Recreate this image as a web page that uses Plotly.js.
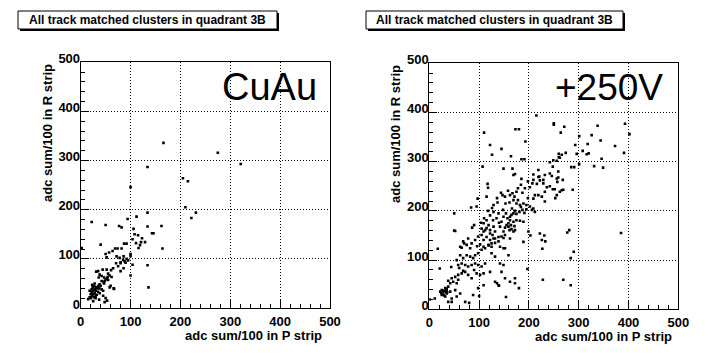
<!DOCTYPE html>
<html>
<head>
<meta charset="utf-8">
<script src="https://cdn.plot.ly/plotly-3.0.1.min.js"></script>
<style>html,body{margin:0;padding:0;background:#fff;}#chart{width:724px;height:361px;}</style>
</head>
<body>
<div id="chart"></div>
<script>
// ---- data (adc sum/100 in P strip, adc sum/100 in R strip) ----
const panelTitle = "All track matched clusters in quadrant 3B";
const xAxisTitle = "adc sum/100 in P strip";
const yAxisTitle = "adc sum/100 in R strip";
const leftLabel = "CuAu";
const rightLabel = "+250V";
const tickVals = [0, 100, 200, 300, 400, 500];

const cuauPoints = [
[166,336],[275,316],[321,293],[134,287],[100,246],[205,264],[215,258],[210,205],[231,194],[222,183],
[134,194],[22,175],[50,169],[77,167],[82,164],[94,181],[112,186],[134,166],[162,167],[106,161],
[108,150],[115,148],[123,142],[129,134],[121,134],[111,132],[104,140],[143,152],[146,152],[164,121],
[116,122],[119,128],[134,87],[136,42],[100,110],[100,106],[100,66],[104,88],[87,131],[92,131],
[82,121],[74,121],[69,121],[64,116],[57,113],[50,110],[52,103],[40,129],[2,122],[72,105],
[78,102],[85,98],[88,95],[92,100],[95,97],[86,105],[80,93],[90,92],[71,91],[75,85],
[80,91],[86,81],[80,75],[65,81],[61,77],[52,78],[44,78],[54,63],[58,66],[67,39],
[47,62],[50,58],[53,60],[48,55],[46,52],[55,57],[42,55],[38,48],[35,45],[40,45],
[30,42],[33,40],[28,38],[25,35],[22,32],[20,28],[23,25],[26,22],[20,20],[18,22],
[15,18],[24,42],[27,45],[30,35],[35,33],[37,40],[42,38],[38,30],[32,27],[28,30],
[25,28],[30,25],[22,38],[18,35],[35,75],[31,74],[38,68],[42,65],[36,62],[47,50],
[50,20],[45,25],[53,15],[48,12],[60,45],[58,42],[37,17],[30,20],[25,14],[55,70],
[45,35],[66,40],[62,63],[23,47],[28,50]
];

const hvPoints = [
[215,394],[250,378],[250,375],[271,371],[264,359],[338,373],[393,377],[402,356],[301,352],[326,354],
[344,343],[373,332],[391,318],[349,288],[346,306],[331,291],[318,336],[316,315],[320,317],[308,322],
[301,295],[291,289],[285,289],[293,334],[274,318],[266,314],[262,308],[256,302],[248,290],[259,280],
[268,263],[256,266],[288,243],[269,243],[256,232],[253,226],[232,219],[296,316],
[110,359],[122,334],[173,366],[180,366],[193,341],[145,326],[126,314],[164,311],[185,305],[191,305],
[260,316],[260,309],[249,303],[107,290],[149,286],[167,286],[172,275],[185,265],[209,274],[219,283],
[221,270],[232,273],[242,276],[117,255],[118,247],[242,299],
[219,269],[209,263],[229,263],[246,271],[259,268],[257,259],[169,273],[202,248],[216,255],[229,256],
[242,250],[248,244],[252,244],[262,239],[266,242],[184,253],[192,246],[175,239],[167,236],[171,229],
[187,237],[209,225],[219,232],[226,229],[232,239],[144,237],[152,229],[162,232],[169,222],[161,217],
[153,215],[137,217],[129,212],[175,215],[182,212],[189,215],[195,212],[202,209],[206,202],[209,205],
[212,198],[184,208],[187,202],[195,203],[181,198],[191,196],[172,200],[169,195],[175,194],[162,188],
[165,192],[154,195],[149,188],[157,185],[162,181],[169,178],[175,181],[182,180],[189,178],[171,169],
[164,171],[159,175],[155,171],[152,166],[165,163],[161,161],[172,161],[142,168],[145,178],[135,185],
[139,195],[129,198],[122,191],[115,181],[109,175],[119,171],[129,168],[122,161],[132,158],[112,161],
[105,164],[127,151],[115,147],[122,141],[109,141],[132,144],[139,147],[119,130],[109,127],[125,127],
[132,135],[149,145],[152,151],[199,158],[222,154],[226,141],[281,161],[277,156],[189,137],[149,124],
[17,123],[52,159],[78,144],[68,138],[62,127],[75,131],[82,124],[85,134],[92,141],[98,148],
[105,151],[109,158],[115,165],[122,154],[129,144],[125,134],[119,131],[112,124],[105,121],[98,114],
[92,110],[88,104],[82,107],[75,110],[68,104],[62,110],[55,100],[58,90],[65,93],[72,90],
[78,87],[85,90],[92,93],[98,90],[105,87],[112,93],[90,80],[95,73],[102,70],[109,73],
[122,76],[85,63],[78,70],[72,76],[65,73],[58,70],[52,66],[45,63],[48,56],[55,53],
[42,53],[38,46],[32,43],[25,39],[28,32],[35,32],[32,26],[25,29],[22,36],[35,39],
[42,36],[52,39],[45,22],[55,26],[62,32],[38,15],[72,15],[88,29],[98,43],[109,49],
[154,25],[132,56],[139,49],[145,76],[152,63],[162,56],[172,53],[142,93],[149,90],[159,110],
[152,124],[142,127],[139,138],[145,148],[149,158],[162,144],[169,158],[159,168],[125,114],[132,107],
[1,20],[11,22],[21,83],[50,195],[50,160],[95,209],[84,207],[97,225],[115,229],
[26,30],[30,28],[27,38],[34,36],[31,37],[36,34],[24,33],[35,42],
[180,43],[172,63],[197,82],[228,60],[269,60],[284,49],[136,53],[140,48],[100,27],[80,13],
[45,15],[227,123],[231,150],[233,138],[203,150],[290,117],[284,104],[385,155],
[65,125],[70,134],[86,166],[90,171],[104,176],[110,185],[118,200],[126,206],[136,226],[147,232],
[158,241],[178,246],[198,260],[207,256],[222,262],[236,248],[212,232],[198,226],[178,222],[166,205],
[148,202],[140,176],[128,181],[96,128],[102,132],[60,84],[68,78],[44,86],[38,58],[58,60]
];

// ---- layout helpers (pixel -> paper) ----
const W = 724, H = 361;
const px = v => v / W;
const py = v => 1 - v / H;

function axisCommon(extra) {
  return Object.assign({
    range: [0, 500], tickvals: tickVals, ticktext: tickVals.map(String),
    ticks: 'inside', ticklen: 8, tickwidth: 1, tickcolor: '#000',
    showline: true, linecolor: '#000', linewidth: 1, mirror: true,
    showgrid: true, gridcolor: '#000', gridwidth: 1, griddash: '1px,2px',
    zeroline: false,
    tickfont: {family: 'Liberation Sans, Arial, sans-serif', size: 13, color: '#000', weight: 'bold'},
    minor: {ticks: 'inside', ticklen: 4, dtick: 20, tick0: 0, tickcolor: '#000', showgrid: false},
    fixedrange: true
  }, extra);
}

const traces = [
  {x: cuauPoints.map(p => p[0]), y: cuauPoints.map(p => p[1]), xaxis: 'x', yaxis: 'y',
   mode: 'markers', type: 'scatter', marker: {symbol: 'square', size: 2.6, color: '#000', line: {width: 0}}, hoverinfo: 'skip'},
  {x: hvPoints.map(p => p[0]), y: hvPoints.map(p => p[1]), xaxis: 'x2', yaxis: 'y2',
   mode: 'markers', type: 'scatter', marker: {symbol: 'square', size: 2.6, color: '#000', line: {width: 0}}, hoverinfo: 'skip'}
];

const boldFont = {family: 'Liberation Sans, Arial, sans-serif', size: 13, color: '#000', weight: 'bold'};
const titleFont = {family: 'Liberation Sans, Arial, sans-serif', size: 12, color: '#000', weight: 'bold'};
const bigFont = {family: 'Liberation Sans, Arial, sans-serif', size: 38, color: '#000'};

function titleBox(x0, x1) {
  return [
    {type: 'rect', xref: 'paper', yref: 'paper', x0: px(x0 + 2), x1: px(x1 + 2), y0: py(31), y1: py(13),
     fillcolor: '#000', line: {width: 0}, layer: 'above'},
    {type: 'rect', xref: 'paper', yref: 'paper', x0: px(x0), x1: px(x1), y0: py(29), y1: py(11),
     fillcolor: '#fff', line: {color: '#000', width: 1}, layer: 'above'}
  ];
}

const layout = {
  width: W, height: H, margin: {l: 0, r: 0, t: 0, b: 0},
  paper_bgcolor: '#fff', plot_bgcolor: '#fff', showlegend: false,
  xaxis: axisCommon({domain: [px(80.7), px(330)], anchor: 'y', ticklabelstandoff: 1}),
  yaxis: axisCommon({domain: [py(308), py(62.3)], anchor: 'x', ticklabelstandoff: -3, ticklabelshift: -4}),
  xaxis2: axisCommon({domain: [px(429.3), px(678.3)], anchor: 'y2', ticklabelstandoff: 1}),
  yaxis2: axisCommon({domain: [py(309.3), py(63.3)], anchor: 'x2', ticklabelstandoff: -3, ticklabelshift: -4}),
  shapes: [].concat(titleBox(18, 277), titleBox(366, 623)),
  annotations: [
    {text: panelTitle, xref: 'paper', yref: 'paper', x: px(147.5), y: py(20), xanchor: 'center', yanchor: 'middle', showarrow: false, font: titleFont},
    {text: panelTitle, xref: 'paper', yref: 'paper', x: px(494.5), y: py(20), xanchor: 'center', yanchor: 'middle', showarrow: false, font: titleFont},
    {text: xAxisTitle, xref: 'paper', yref: 'paper', x: px(324), y: py(335), xanchor: 'right', yanchor: 'middle', showarrow: false, font: boldFont},
    {text: xAxisTitle, xref: 'paper', yref: 'paper', x: px(674), y: py(336), xanchor: 'right', yanchor: 'middle', showarrow: false, font: boldFont},
    {text: yAxisTitle, xref: 'paper', yref: 'paper', x: px(47), y: py(62), xanchor: 'center', yanchor: 'top', textangle: -90, showarrow: false, font: boldFont},
    {text: yAxisTitle, xref: 'paper', yref: 'paper', x: px(395), y: py(63), xanchor: 'center', yanchor: 'top', textangle: -90, showarrow: false, font: boldFont},
    {text: leftLabel, xref: 'paper', yref: 'paper', x: px(319), y: py(87), xanchor: 'right', yanchor: 'middle', showarrow: false, font: bigFont},
    {text: rightLabel, xref: 'paper', yref: 'paper', x: px(665), y: py(87), xanchor: 'right', yanchor: 'middle', showarrow: false, font: Object.assign({}, bigFont, {size: 37})}
  ]
};

Plotly.newPlot('chart', traces, layout, {staticPlot: true, displayModeBar: false});
</script>
</body>
</html>
